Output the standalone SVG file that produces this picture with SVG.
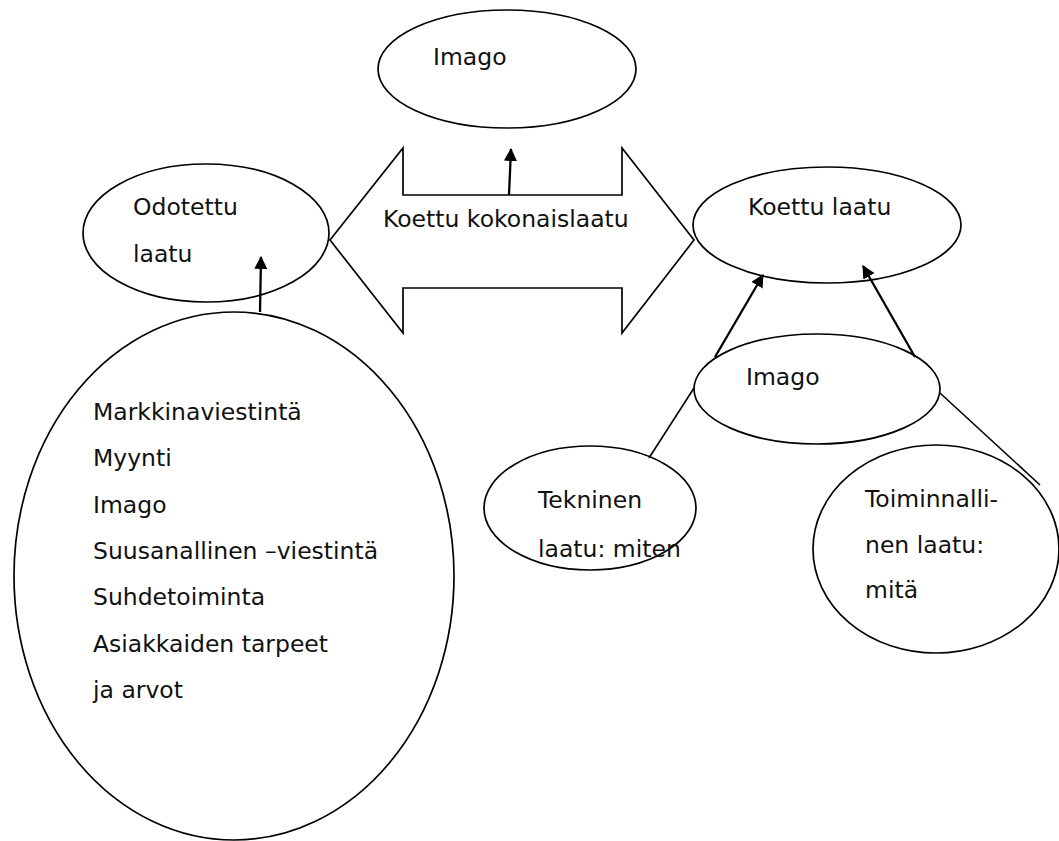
<svg xmlns="http://www.w3.org/2000/svg" width="1059" height="841" viewBox="0 0 1059 841">
  <style>
    .shape { fill: #fff; stroke: #000; stroke-width: 1.7; }
    .link { fill: none; stroke: #000; stroke-width: 1.6; }
    .arrow { fill: none; stroke: #000; stroke-width: 2.3; marker-end: url(#head); }
    text { font-family: "DejaVu Sans", Verdana, sans-serif; font-size: 23.5px; fill: #111; }
  </style>
  <defs>
    <marker id="head" viewBox="0 0 12 12" refX="11" refY="6" markerWidth="13" markerHeight="13" markerUnits="userSpaceOnUse" orient="auto">
      <path d="M0,0 L12,6 L0,12 Z" fill="#000"/>
    </marker>
  </defs>

  <rect width="1059" height="841" fill="#fff"/>

  <g id="imago-top">
    <ellipse class="shape" cx="507" cy="69" rx="129" ry="59"/>
    <text x="433" y="65">Imago</text>
  </g>

  <g id="kokonaislaatu">
    <path class="shape" d="M330,240 L403,148 L403,195 L622,195 L622,148 L694,240 L622,333 L622,288 L403,288 L403,333 Z"/>
    <text x="383" y="227">Koettu kokonaislaatu</text>
  </g>

  <g id="odotettu">
    <ellipse class="shape" cx="206" cy="233" rx="123" ry="69"/>
    <text x="133" y="215">Odotettu</text>
    <text x="133" y="262">laatu</text>
  </g>

  <g id="tekijat">
    <ellipse class="shape" cx="234" cy="576" rx="220" ry="264"/>
    <text x="93" y="420">Markkinaviestintä</text>
    <text x="93" y="466">Myynti</text>
    <text x="93" y="513">Imago</text>
    <text x="93" y="559">Suusanallinen –viestintä</text>
    <text x="93" y="605">Suhdetoiminta</text>
    <text x="93" y="652">Asiakkaiden tarpeet</text>
    <text x="93" y="698">ja arvot</text>
  </g>

  <g id="koettu">
    <ellipse class="shape" cx="827" cy="225" rx="134" ry="58"/>
    <text x="748" y="215">Koettu laatu</text>
  </g>

  <g id="imago-right">
    <ellipse class="shape" cx="817" cy="389" rx="123" ry="55"/>
    <text x="746" y="385">Imago</text>
  </g>

  <g id="tekninen">
    <ellipse class="shape" cx="590" cy="508" rx="106" ry="62"/>
    <text x="538" y="508">Tekninen</text>
    <text x="538" y="557">laatu: miten</text>
  </g>

  <g id="toiminnallinen">
    <ellipse class="shape" cx="936" cy="549" rx="123" ry="104"/>
    <text x="865" y="507">Toiminnalli-</text>
    <text x="865" y="553">nen laatu:</text>
    <text x="865" y="598">mitä</text>
  </g>

  <g id="connectors">
    <line class="arrow" x1="509" y1="195" x2="511" y2="149"/>
    <line class="arrow" x1="260" y1="312" x2="261" y2="257"/>
    <line class="arrow" x1="715" y1="357" x2="763" y2="275"/>
    <line class="arrow" x1="915" y1="357" x2="863" y2="266"/>
    <line class="link" x1="694" y1="388" x2="649" y2="458"/>
    <line class="link" x1="940" y1="393" x2="1040" y2="485"/>
  </g>
</svg>
